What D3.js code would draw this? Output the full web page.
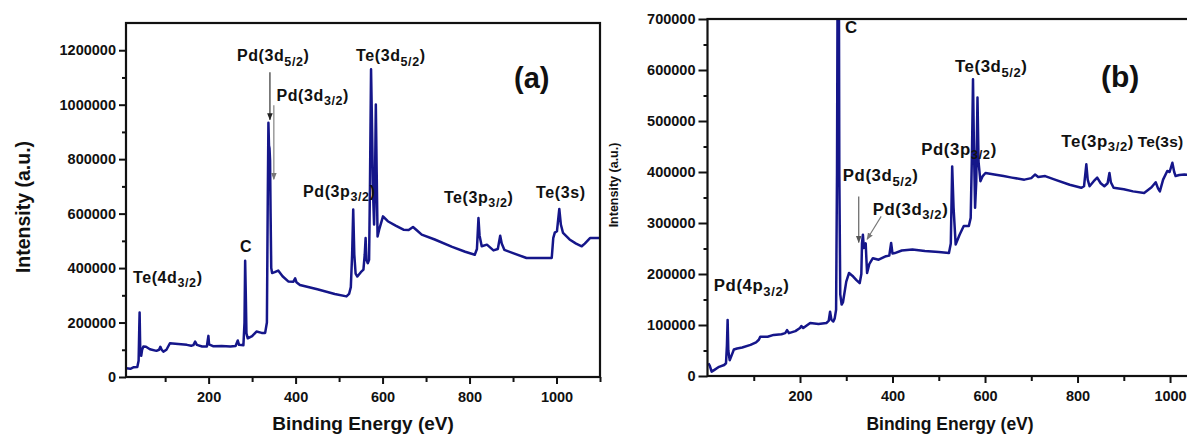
<!DOCTYPE html>
<html>
<head>
<meta charset="utf-8">
<script src="https://cdn.jsdelivr.net/npm/d3@7"></script>
<style>
  html, body { margin: 0; padding: 0; background: #ffffff; overflow: hidden; }
  svg { display: block; }
  text { font-family: "Liberation Sans", Arial, sans-serif; font-weight: bold; fill: #111; }
</style>
</head>
<body>
<script>
// ---- Survey spectrum (a): binding energy (eV) and counts ----
const energyA = [10, 20, 28, 36, 39, 40.5, 41.3, 42.2, 43, 45, 47, 50, 56, 65, 80, 86, 89, 92, 96, 103,
  111, 130, 150, 160, 165, 169, 173, 185, 196, 198, 199.5, 201, 210, 230, 250, 262, 267, 270, 280,
  282.5, 284, 285.5, 287, 290, 300, 310, 322, 330, 334, 336, 337.5, 338.8, 340, 341.3, 342.5, 344,
  346, 352, 360, 370, 383, 395, 399, 402, 410, 450, 490, 517, 523, 527, 530, 532.5, 535, 538, 542,
  550, 556, 559, 561, 563, 566, 569, 571, 573.5, 576, 578, 580.5, 582.5, 584.5, 586.5, 588.5, 592,
  601, 612, 630, 648, 660, 670, 678, 690, 720, 760, 790, 812, 817, 820.5, 823, 828, 840, 855, 865,
  870.5, 874, 880, 900, 931, 960, 989, 992.5, 996, 1001, 1006.4, 1010, 1015, 1030, 1045, 1058, 1065,
  1077, 1100];
const countsA = [32000, 30000, 36000, 37000, 60000, 180000, 237000, 150000, 82000, 78000, 100000,
  112000, 111000, 102000, 96000, 100000, 111000, 100000, 93000, 100000, 124000, 121000, 118000,
  115000, 117000, 130000, 118000, 112000, 112000, 135000, 151000, 120000, 113000, 114000, 112000,
  114000, 134000, 118000, 117000, 200000, 427000, 300000, 160000, 142000, 150000, 167000, 162000,
  162000, 200000, 650000, 934000, 850000, 840000, 795000, 600000, 400000, 382000, 385000, 391000,
  370000, 351000, 350000, 362000, 348000, 338000, 322000, 305000, 296000, 305000, 330000, 450000,
  615000, 450000, 380000, 369000, 385000, 394000, 450000, 510000, 430000, 418000, 430000, 700000,
  1130000, 900000, 680000, 560000, 700000, 1001000, 750000, 516000, 540000, 590000, 572000, 556000,
  541000, 540000, 551000, 540000, 523000, 505000, 478000, 460000, 449000, 470000, 584000, 520000,
  480000, 486000, 465000, 470000, 519000, 490000, 467000, 455000, 437000, 437000, 437000, 510000,
  530000, 535000, 617000, 560000, 529000, 505000, 490000, 480000, 490000, 510000, 510000];

// ---- Survey spectrum (b) ----
const energyB = [2, 5, 9, 15, 25, 36, 40, 42, 43.5, 45, 48, 52, 57, 64, 75, 93, 105, 111, 114, 130,
  143, 160, 168, 172, 176, 190, 200, 203, 207, 222, 240, 257, 262, 265, 268, 272, 275, 278, 280, 282,
  283.5, 285, 287, 290, 293, 300, 306, 315, 322, 329, 332.6, 334, 336, 338, 340, 342, 343.5, 345, 350,
  357.5, 370, 386, 393, 397, 400, 405, 420, 443, 470, 500, 522, 526, 529, 532, 536.5, 545, 554, 565,
  569, 572, 574, 576, 578.5, 581, 583.7, 586, 590, 595, 601, 620, 640, 658, 685, 700, 708, 715, 730,
  751, 783, 808, 814, 819, 822, 826, 835, 842.5, 850, 858, 865, 869, 872, 878, 900, 920, 944, 960,
  969, 974, 978, 985, 994, 999, 1005, 1009, 1012, 1020, 1031, 1060];
const countsB = [25000, 20000, 8500, 12000, 18000, 21600, 25000, 60000, 110000, 50000, 31000, 40000,
  52000, 54000, 56000, 61000, 66000, 71000, 77000, 77000, 80600, 82000, 84000, 90000, 84000, 88000,
  94000, 98000, 94000, 104000, 102000, 104000, 108000, 126000, 110000, 107000, 113000, 130000,
  400000, 1000000, 1000000, 400000, 160000, 140000, 145000, 185000, 202000, 195000, 188000, 182000,
  200000, 260000, 277000, 251000, 255000, 260000, 230000, 202000, 220000, 231000, 228000, 235000,
  236000, 261000, 240000, 241000, 246000, 248000, 245000, 243000, 241000, 260000, 411000, 330000,
  258000, 277000, 294000, 294000, 310000, 450000, 582000, 450000, 330000, 380000, 546000, 420000,
  382000, 392000, 398000, 395000, 392000, 389000, 385000, 388000, 395000, 390000, 392000, 385000,
  375000, 369000, 372000, 415000, 385000, 372000, 382000, 389000, 378000, 372000, 378000, 398000,
  380000, 369000, 366000, 362000, 359000, 370000, 380000, 368000, 362000, 385000, 402000, 400000,
  418000, 400000, 392000, 394000, 395000, 392000];

// ---- Axis ticks ----
const xMajorA = [200, 400, 600, 800, 1000];
const xMinorA = [100, 300, 500, 700, 900, 1100];
const yMajorA = [0, 200000, 400000, 600000, 800000, 1000000, 1200000];
const yMinorA = [100000, 300000, 500000, 700000, 900000, 1100000];
const xMajorB = [200, 400, 600, 800, 1000];
const xMinorB = [100, 300, 500, 700, 900];
const yMajorB = [0, 100000, 200000, 300000, 400000, 500000, 600000, 700000];
const yMinorB = [50000, 150000, 250000, 350000, 450000, 550000, 650000];

// ---- Peak assignments (anchor in eV / counts) ----
const peaksA = [
  { main: "Pd(3d", sub: "5/2", tail: ")", e: 265, v: 1160000 },
  { main: "Pd(3d", sub: "3/2", tail: ")", e: 356, v: 1014000 },
  { main: "Te(3d", sub: "5/2", tail: ")", e: 539, v: 1160000 },
  { main: "Pd(3p", sub: "3/2", tail: ")", e: 417, v: 662000 },
  { main: "Te(3p", sub: "3/2", tail: ")", e: 741, v: 640000 },
  { main: "Te(3s)", e: 953, v: 659000 },
  { main: "C", e: 272, v: 460000 },
  { main: "Te(4d", sub: "3/2", tail: ")", e: 26, v: 346000 }
];
const arrowsA = [
  { e1: 341, v1: 1119000, e2: 341, v2: 945000, color: "#222" },
  { e1: 350, v1: 998000, e2: 350, v2: 726000, color: "#777" }
];
const peaksB = [
  { main: "C", e: 297, v: 672000 },
  { main: "Te(3d", sub: "5/2", tail: ")", e: 535, v: 596000 },
  { main: "Pd(3p", sub: "3/2", tail: ")", e: 462, v: 434000 },
  { main: "Te(3p", sub: "3/2", tail: ")", e: 765, v: 450000 },
  { main: "Te(3s)", e: 930, v: 450000, size: "15.5px", spacing: 0.2 },
  { main: "Pd(3d", sub: "5/2", tail: ")", e: 292.5, v: 382000 },
  { main: "Pd(3d", sub: "3/2", tail: ")", e: 357, v: 316000 },
  { main: "Pd(4p", sub: "3/2", tail: ")", e: 13.5, v: 166000 }
];
const arrowsB = [
  { e1: 327, v1: 352000, e2: 327, v2: 262000, color: "#555" },
  { e1: 375.5, v1: 313000, e2: 345, v2: 268000, color: "#777" }
];

const W = 1187, H = 437;
const lineColor = "#15168a";
const svg = d3.select("body").append("svg").attr("width", W).attr("height", H);

const defs = svg.append("defs");
const arrowColors = ["#222", "#555", "#777"];
arrowColors.forEach((c, i) => {
  defs.append("marker")
    .attr("id", "arrow" + i)
    .attr("viewBox", "0 0 10 10").attr("refX", 9).attr("refY", 5)
    .attr("markerWidth", 7).attr("markerHeight", 7)
    .attr("markerUnits", "userSpaceOnUse")
    .attr("orient", "auto")
    .append("path").attr("d", "M0,1 L10,5 L0,9 Z").attr("fill", c);
});
const markerFor = c => "url(#arrow" + arrowColors.indexOf(c) + ")";

function drawPanel(cfg) {
  const { id, x, y, energy, counts, xMajor, xMinor, yMajor, yMinor, peaks, arrows,
          tickFont, labelFont, subFont, yTick, yMinorTick, xTick, xMinorTick } = cfg;
  const [x0, x1] = x.range();
  const [y0, y1] = y.range();
  const g = svg.append("g");

  defs.append("clipPath").attr("id", "clip" + id)
    .append("rect").attr("x", x0).attr("y", y1).attr("width", x1 - x0).attr("height", y0 - y1);

  // spectrum trace
  const line = d3.line().x((d, i) => x(energy[i])).y(d => y(d));
  g.append("path")
    .attr("clip-path", "url(#clip" + id + ")")
    .attr("d", line(counts))
    .attr("fill", "none").attr("stroke", lineColor)
    .attr("stroke-width", 2.5).attr("stroke-linejoin", "round");

  // minor ticks
  g.append("g").attr("transform", `translate(0,${y0})`)
    .call(d3.axisBottom(x).tickValues(xMinor).tickSize(xMinorTick).tickSizeOuter(0).tickFormat(""))
    .call(a => a.select(".domain").remove())
    .call(a => a.selectAll("line").attr("stroke", "#111").attr("stroke-width", 2));
  g.append("g").attr("transform", `translate(${x0},0)`)
    .call(d3.axisLeft(y).tickValues(yMinor).tickSize(yMinorTick).tickSizeOuter(0).tickFormat(""))
    .call(a => a.select(".domain").remove())
    .call(a => a.selectAll("line").attr("stroke", "#111").attr("stroke-width", 2));

  // major ticks with labels
  const gx = g.append("g").attr("transform", `translate(0,${y0})`)
    .call(d3.axisBottom(x).tickValues(xMajor).tickSize(xTick).tickSizeOuter(0)
      .tickPadding(8).tickFormat(d3.format("d")));
  gx.select(".domain").remove();
  gx.selectAll("line").attr("stroke", "#111").attr("stroke-width", 2);
  gx.selectAll("text").attr("font-size", tickFont).attr("font-family", "Liberation Sans, Arial")
    .attr("font-weight", "bold").attr("fill", "#111");

  const gy = g.append("g").attr("transform", `translate(${x0},0)`)
    .call(d3.axisLeft(y).tickValues(yMajor).tickSize(yTick).tickSizeOuter(0)
      .tickPadding(3).tickFormat(d3.format("d")));
  gy.select(".domain").remove();
  gy.selectAll("line").attr("stroke", "#111").attr("stroke-width", 2);
  gy.selectAll("text").attr("font-size", tickFont).attr("font-family", "Liberation Sans, Arial")
    .attr("font-weight", "bold").attr("fill", "#111");

  // frame
  g.append("rect").attr("x", x0).attr("y", y1).attr("width", x1 - x0).attr("height", y0 - y1)
    .attr("fill", "none").attr("stroke", "#111").attr("stroke-width", 2.2);

  // peak assignments
  peaks.forEach(p => {
    const t = g.append("text").attr("x", x(p.e)).attr("y", y(p.v))
      .attr("font-size", p.size || labelFont).attr("letter-spacing", p.spacing ?? 0.6);
    t.append("tspan").text(p.main);
    if (p.sub) {
      t.append("tspan").attr("font-size", subFont).attr("dy", 4.5).text(p.sub);
      t.append("tspan").attr("dy", -4.5).text(p.tail);
    }
  });

  arrows.forEach(a => {
    g.append("line")
      .attr("x1", x(a.e1)).attr("y1", y(a.v1)).attr("x2", x(a.e2)).attr("y2", y(a.v2))
      .attr("stroke", a.color).attr("stroke-width", 1.1)
      .attr("marker-end", markerFor(a.color));
  });
  return g;
}

// Panel (a)
const xA = d3.scaleLinear([10, 1100], [126, 600]);
const yA = d3.scaleLinear([0, 1300000], [377, 23]);
drawPanel({ id: "A", x: xA, y: yA, energy: energyA, counts: countsA,
  xMajor: xMajorA, xMinor: xMinorA, yMajor: yMajorA, yMinor: yMinorA,
  peaks: peaksA, arrows: arrowsA, tickFont: "14.5px", labelFont: "16px", subFont: "12.5px",
  yTick: 7, yMinorTick: 4, xTick: 7, xMinorTick: 5 });

// Panel (b): the frame runs on past the right edge of the page
const xB = d3.scaleLinear([0, 1100], [707.5, 1216.3]);
const yB = d3.scaleLinear([0, 700000], [376, 19]);
drawPanel({ id: "B", x: xB, y: yB, energy: energyB, counts: countsB,
  xMajor: xMajorB, xMinor: xMinorB, yMajor: yMajorB, yMinor: yMinorB,
  peaks: peaksB, arrows: arrowsB, tickFont: "14.5px", labelFont: "16.8px", subFont: "13px",
  yTick: 9, yMinorTick: 4, xTick: 7, xMinorTick: 5 });

// Axis titles
svg.append("text").attr("x", 363).attr("y", 430).attr("text-anchor", "middle")
  .attr("font-size", "19px").text("Binding Energy (eV)");
svg.append("text").attr("x", 950).attr("y", 430).attr("text-anchor", "middle")
  .attr("font-size", "17.5px").text("Binding Energy (eV)");
svg.append("text").attr("transform", "translate(30,207) rotate(-90)")
  .attr("text-anchor", "middle").attr("font-size", "19.5px").text("Intensity (a.u.)");
svg.append("text").attr("transform", "translate(618,185) rotate(-90)")
  .attr("text-anchor", "middle").attr("font-size", "12.5px").text("Intensity (a.u.)");

// Panel tags
svg.append("text").attr("x", 514).attr("y", 88).attr("font-family", "Lato, 'Open Sans', sans-serif")
  .attr("font-weight", 900).attr("font-size", "29px").text("(a)");
svg.append("text").attr("x", 1101).attr("y", 87).attr("font-family", "Lato, 'Open Sans', sans-serif")
  .attr("font-weight", 900).attr("font-size", "30px").text("(b)");
</script>
</body>
</html>
